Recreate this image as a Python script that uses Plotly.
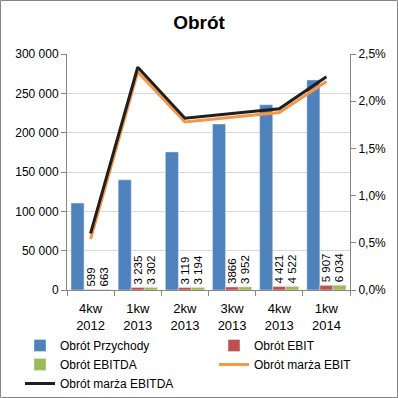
import plotly.graph_objects as go

categories = ["4kw<br>2012", "1kw<br>2013", "2kw<br>2013", "3kw<br>2013", "4kw<br>2013", "1kw<br>2014"]
przychody = [110500, 140000, 175500, 211000, 235500, 267000]
ebit = [599, 3235, 3119, 3866, 4421, 5907]
ebitda = [663, 3302, 3194, 3952, 4522, 6034]
ebit_labels = ["599", "3 235", "3 119", "3866", "4 421", "5 907"]
ebitda_labels = ["663", "3 302", "3 194", "3 952", "4 522", "6 034"]
marza_ebit = [0.0054, 0.0231, 0.0178, 0.0183, 0.0188, 0.0221]
marza_ebitda = [0.0060, 0.0236, 0.0182, 0.0187, 0.0192, 0.0226]

W, H = 398, 398
ml, mr, mt, mb = 67, 48, 54, 108
pw, ph = W - ml - mr, H - mt - mb

def px_x(x):
    return (x - ml) / pw

def px_y(y):
    return (mt + ph - y) / ph

fig = go.Figure()
fig.add_trace(go.Bar(x=categories, y=przychody, name="Obrót Przychody", marker_color="#4F81BD",
                     legend="legend"))
fig.add_trace(go.Bar(x=categories, y=ebit, name="Obrót EBIT", marker_color="#C0504D",
                     text=ebit_labels, textposition="outside", textangle=-90, constraintext="none",
                     outsidetextfont=dict(size=11.5, color="#000000"), cliponaxis=False,
                     legend="legend2"))
fig.add_trace(go.Bar(x=categories, y=ebitda, name="Obrót EBITDA", marker_color="#9BBB59",
                     text=ebitda_labels, textposition="outside", textangle=-90, constraintext="none",
                     outsidetextfont=dict(size=11.5, color="#000000"), cliponaxis=False,
                     legend="legend"))
fig.add_trace(go.Scatter(x=categories, y=marza_ebit, name="Obrót marża EBIT", mode="lines",
                         line=dict(color="#F79646", width=3), yaxis="y2", legend="legend2"))
fig.add_trace(go.Scatter(x=categories, y=marza_ebitda, name="Obrót marża EBITDA", mode="lines",
                         line=dict(color="#1F1F1F", width=3), yaxis="y2", legend="legend"))

axis_col = "#868686"
leg_common = dict(orientation="v", xanchor="left", yanchor="top", font=dict(size=12),
                  tracegroupgap=0, traceorder="normal", bgcolor="rgba(0,0,0,0)")
fig.update_layout(
    width=W, height=H,
    margin=dict(l=ml, r=mr, t=mt, b=mb, autoexpand=False),
    paper_bgcolor="white", plot_bgcolor="white",
    separators=", ",
    font=dict(family="Liberation Sans, Arial, sans-serif", size=12, color="#000000"),
    title=dict(text="<b>Obrót</b>", x=0.5, xanchor="center", y=1 - 22 / H, yanchor="middle",
               font=dict(size=19, color="#000000")),
    barmode="group", bargap=0.17, bargroupgap=0,
    xaxis=dict(showline=True, linecolor=axis_col, linewidth=1, ticks="outside",
               tickson="boundaries", ticklen=5, tickcolor=axis_col, showgrid=False,
               tickfont=dict(size=13), ticklabelstandoff=6, automargin=False),
    yaxis=dict(range=[0, 300000], dtick=50000, tickformat=",d", showline=True,
               linecolor=axis_col, ticks="outside", ticklen=5, tickcolor=axis_col,
               showgrid=True, gridcolor="#D9D9D9", zeroline=False, tickfont=dict(size=12),
               automargin=False),
    yaxis2=dict(range=[0, 0.025], dtick=0.005, tickformat=".1%", overlaying="y", side="right",
                showline=True, linecolor=axis_col, ticks="outside", ticklen=5, tickcolor=axis_col,
                showgrid=False, zeroline=False, tickfont=dict(size=12), automargin=False),
    legend=dict(x=px_x(20), y=px_y(331), **leg_common),
    legend2=dict(x=px_x(214), y=px_y(331), **leg_common),
    showlegend=True,
    shapes=[dict(type="rect", xref="paper", yref="paper",
                 x0=px_x(0.5), x1=px_x(W - 0.5),
                 y0=px_y(H - 0.5), y1=px_y(0.5),
                 line=dict(color="#868686", width=1), fillcolor="rgba(0,0,0,0)", layer="above")],
)

fig.write_html("out.html", config={"displayModeBar": False},
               post_script="document.body.style.margin='0px';document.body.style.overflow='hidden';")
